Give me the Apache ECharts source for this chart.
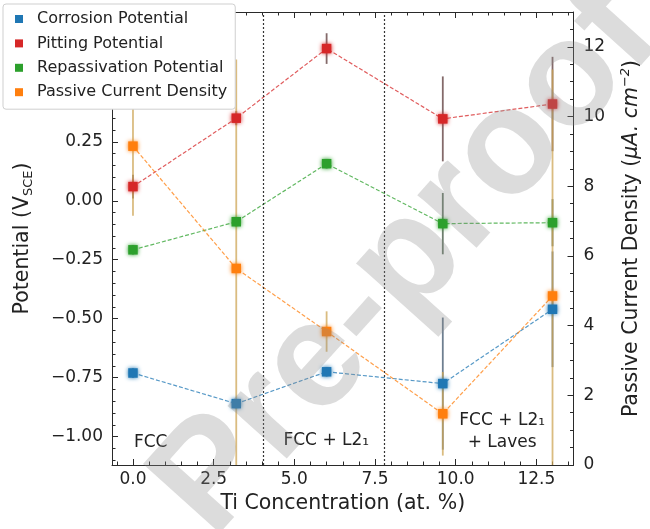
<!DOCTYPE html>
<html><head><meta charset="utf-8">
<script src="https://cdn.jsdelivr.net/npm/echarts@6/dist/echarts.min.js"></script>
<style>html,body{margin:0;padding:0;background:#fff}#c{width:650px;height:529px}</style>
</head><body><div id="c"></div>
<script>
// ---- data ----
const tiConcentration = [0, 3.2, 6.0, 9.6, 13.0];
const corrosionPotential = [-0.73, -0.86, -0.725, -0.775, -0.46];
const corrosionErr = [0.02, 0.02, 0.02, 0.28, 0.245];
const pittingPotential = [0.06, 0.35, 0.645, 0.347, 0.41];
const pittingErr = [0.05, 0.03, 0.065, 0.18, 0.2];
const repassivationPotential = [-0.208, -0.089, 0.157, -0.097, -0.093];
const repassivationErr = [0.02, 0.02, 0.02, 0.13, 0.1];
const passiveCurrentDensity = [9.15, 5.64, 3.83, 1.47, 4.85];
const passiveCurrentErr = [2.0, 6.0, 0.58, 1.2, 6.5];
const phaseBoundaries = [4.05, 7.8];
const xMajorTicks = [0, 2.5, 5, 7.5, 10, 12.5];
const leftMajorTicks = [-1, -0.75, -0.5, -0.25, 0, 0.25, 0.5, 0.75];
const rightMajorTicks = [0, 2, 4, 6, 8, 10, 12];
const phaseLabels = [
  {text: 'FCC', x: 0.55, y: -1.025},
  {text: 'FCC + L2\u2081', x: 5.99, y: -1.017},
  {text: 'FCC + L2\u2081', x: 11.44, y: -0.932},
  {text: '+ Laves', x: 11.44, y: -1.025}
];

const X_MIN = -0.65, X_MAX = 13.65;
const L_MIN = -1.12, L_MAX = 0.8;
const R_MIN = 0, R_MAX = 13;

function minorTicks(lo, hi, step, majors) {
  const out = [];
  const n = Math.round((hi - lo) / step);
  for (let i = 0; i <= n; i++) {
    const v = Math.round((lo + i * step) * 1000) / 1000;
    if (!majors.some(m => Math.abs(m - v) < 1e-6)) out.push(v);
  }
  return out;
}
const xMinorTicks = minorTicks(-0.5, 13.5, 0.5, xMajorTicks);
const leftMinorTicks = minorTicks(-1.10, 0.80, 0.05, leftMajorTicks);
const rightMinorTicks = minorTicks(0.5, 13, 0.5, rightMajorTicks);

const FONT = 'DejaVu Sans';
const AX = '#2a2a2a';
const C = {blue: '#1f77b4', red: '#d62728', green: '#2ca02c', orange: '#ff7f0e'};
const ERRC = {blue: 'rgba(85,105,125,0.85)', red: 'rgba(110,80,80,0.85)', green: 'rgba(85,105,85,0.85)', orange: 'rgba(205,165,85,0.75)'};

function xAxisDef(pos, major) {
  return {
    type: 'value', position: pos, min: X_MIN, max: X_MAX,
    axisLine: {show: major, onZero: false, lineStyle: {color: AX, width: 1}},
    axisTick: {show: true, inside: true, length: major ? 6 : 3.5, lineStyle: {color: AX, width: 1},
      customValues: major ? xMajorTicks : xMinorTicks},
    axisLabel: {show: major && pos === 'bottom', customValues: xMajorTicks, margin: 6,
      fontFamily: FONT, fontSize: 17, color: '#222', formatter: v => v.toFixed(1)},
    splitLine: {show: false},
    name: (major && pos === 'bottom') ? 'Ti Concentration (at. %)' : '',
    nameLocation: 'middle', nameGap: 27,
    nameTextStyle: {fontFamily: FONT, fontSize: 20.5, color: '#222'}
  };
}
function fmtLeft(v) { return (v < 0 ? '\u2212' : '') + Math.abs(v).toFixed(2); }

const option = {
  animation: false,
  backgroundColor: '#fff',
  grid: {left: 112, right: 68, top: 12, bottom: 64, containLabel: false},
  legend: {
    left: 3, top: 4, orient: 'vertical', icon: 'rect', itemWidth: 8, itemHeight: 8, itemGap: 8.4,
    padding: [7, 8, 9, 12], selectedMode: false,
    backgroundColor: '#ffffff', borderColor: '#cfcfcf', borderWidth: 1, borderRadius: 3,
    textStyle: {fontFamily: FONT, fontSize: 16, lineHeight: 16, color: '#222', padding: [0, 0, 0, 9]},
    data: ['Corrosion Potential', 'Pitting Potential', 'Repassivation Potential', 'Passive Current Density'],
    z: 20
  },
  xAxis: [xAxisDef('bottom', true), xAxisDef('bottom', false), xAxisDef('top', true), xAxisDef('top', false)],
  yAxis: [
    {type: 'value', position: 'left', min: L_MIN, max: L_MAX,
      axisLine: {show: true, onZero: false, lineStyle: {color: AX, width: 1}},
      axisTick: {show: true, inside: true, length: 6, lineStyle: {color: AX}, customValues: leftMajorTicks},
      axisLabel: {customValues: leftMajorTicks, formatter: fmtLeft, margin: 9, fontFamily: FONT, fontSize: 17, color: '#222'},
      splitLine: {show: false},
      name: '{n|Potential (V}{s|SCE}{n|)}', nameLocation: 'middle', nameGap: 77, nameRotate: 90,
      nameTextStyle: {rich: {
        n: {fontFamily: FONT, fontSize: 20.5, lineHeight: 24, color: '#222'},
        s: {fontFamily: FONT, fontSize: 13, lineHeight: 13, verticalAlign: 'bottom', color: '#222'}
      }}
    },
    {type: 'value', position: 'left', min: L_MIN, max: L_MAX,
      axisLine: {show: false, onZero: false},
      axisTick: {show: true, inside: true, length: 3.5, lineStyle: {color: AX}, customValues: leftMinorTicks},
      axisLabel: {show: false}, splitLine: {show: false}},
    {type: 'value', position: 'right', min: R_MIN, max: R_MAX,
      axisLine: {show: true, onZero: false, lineStyle: {color: AX, width: 1}},
      axisTick: {show: true, inside: true, length: 6, lineStyle: {color: AX}, customValues: rightMajorTicks},
      axisLabel: {customValues: rightMajorTicks, margin: 10, fontFamily: FONT, fontSize: 17, color: '#222'},
      splitLine: {show: false},
      name: '{n|Passive Current Density (}{i|\u03bcA. cm}{p|\u22122}{n|)}', nameLocation: 'middle', nameGap: 46, nameRotate: 90,
      nameTextStyle: {rich: {
        n: {fontFamily: FONT, fontSize: 20.5, lineHeight: 24, color: '#222'},
        i: {fontFamily: FONT, fontSize: 20.5, lineHeight: 24, fontStyle: 'italic', color: '#222'},
        p: {fontFamily: FONT, fontSize: 13, lineHeight: 13, verticalAlign: 'top', fontStyle: 'italic', color: '#222'}
      }}
    },
    {type: 'value', position: 'right', min: R_MIN, max: R_MAX,
      axisLine: {show: false, onZero: false},
      axisTick: {show: true, inside: true, length: 3.5, lineStyle: {color: AX}, customValues: rightMinorTicks},
      axisLabel: {show: false}, splitLine: {show: false}}
  ],
  series: []
};

function errSeries(name, vals, errs, yIdx, color) {
  const data = tiConcentration.map((x, i) => [x, vals[i] - errs[i], vals[i] + errs[i]]);
  return {
    type: 'custom', name: name + ' err', xAxisIndex: 0, yAxisIndex: yIdx, silent: true,
    encode: {x: 0, y: [1, 2]}, data: data, z: 2,
    renderItem: function (params, api) {
      const x = api.value(0);
      const p1 = api.coord([x, api.value(1)]);
      const p2 = api.coord([x, api.value(2)]);
      const cs = params.coordSys;
      const top = Math.max(cs.y, Math.min(p1[1], p2[1]));
      const bot = Math.min(cs.y + cs.height, Math.max(p1[1], p2[1]));
      return {type: 'line', shape: {x1: p1[0], y1: top, x2: p1[0], y2: bot},
        style: {stroke: color, lineWidth: 1.8}};
    }
  };
}
function lineSeries(name, vals, yIdx, color, extra) {
  const s = {
    type: 'line', name: name, xAxisIndex: 0, yAxisIndex: yIdx,
    data: tiConcentration.map((x, i) => [x, vals[i]]),
    symbol: 'rect', symbolSize: 9.5, z: 3,
    itemStyle: {color: color, shadowBlur: 4, shadowColor: color},
    lineStyle: {color: color, width: 1.2, type: [4, 2], opacity: 0.75}
  };
  return Object.assign(s, extra || {});
}

option.series.push(errSeries('Corrosion Potential', corrosionPotential, corrosionErr, 0, ERRC.blue));
option.series.push(lineSeries('Corrosion Potential', corrosionPotential, 0, C.blue, {
  markLine: {silent: true, symbol: 'none', label: {show: false},
    lineStyle: {color: '#333', width: 1.2, type: [2, 2]},
    data: phaseBoundaries.map(v => ({xAxis: v}))}
}));
option.series.push(errSeries('Pitting Potential', pittingPotential, pittingErr, 0, ERRC.red));
option.series.push(lineSeries('Pitting Potential', pittingPotential, 0, C.red));
option.series.push(errSeries('Repassivation Potential', repassivationPotential, repassivationErr, 0, ERRC.green));
option.series.push(lineSeries('Repassivation Potential', repassivationPotential, 0, C.green));
option.series.push(errSeries('Passive Current Density', passiveCurrentDensity, passiveCurrentErr, 2, ERRC.orange));
option.series.push(lineSeries('Passive Current Density', passiveCurrentDensity, 2, C.orange));

const chart = echarts.init(document.getElementById('c'), null, {renderer: 'canvas'});
chart.setOption(option);

const graphics = phaseLabels.map(a => {
  const p = chart.convertToPixel({xAxisIndex: 0, yAxisIndex: 0}, [a.x, a.y]);
  return {type: 'text', x: p[0], y: p[1], z: 10, silent: true,
    style: {text: a.text, fontFamily: FONT, fontSize: 17, fill: '#222', align: 'center', verticalAlign: 'middle'}};
});
graphics.push({type: 'text', x: 408, y: 262, rotation: 48 * Math.PI / 180, z: 50, silent: true,
  style: {text: 'Pre-proof', fontFamily: 'Liberation Sans', fontWeight: 'bold', fontSize: 150,
    fill: 'rgba(140,140,140,0.3)', align: 'center', verticalAlign: 'middle'}});
chart.setOption({graphic: graphics});
</script></body></html>
